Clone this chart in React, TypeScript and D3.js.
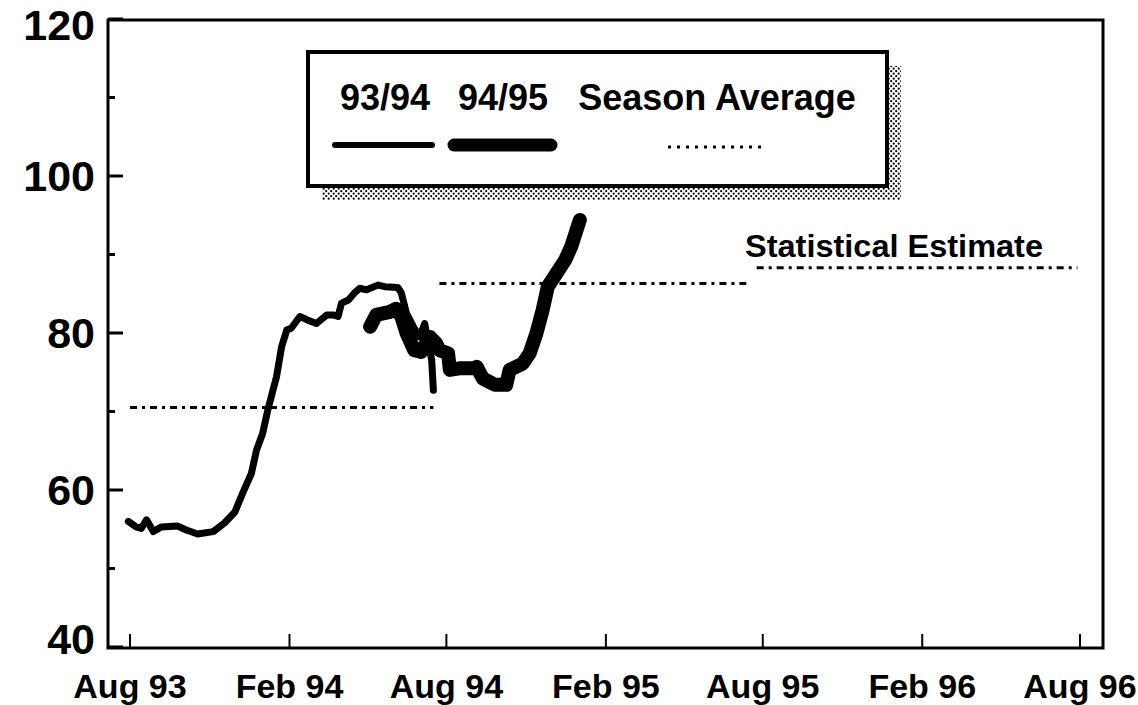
import React, { useEffect, useRef } from "react";
import * as d3 from "d3";

const WIDTH = 1138;
const HEIGHT = 705;

// 93/94 season (thin line)
const season9394Dates = [
  "1993-07-30", "1993-08-08", "1993-08-14", "1993-08-20", "1993-08-28", "1993-09-06",
  "1993-09-25", "1993-10-05", "1993-10-18", "1993-11-05", "1993-11-18", "1993-11-30",
  "1993-12-09", "1993-12-19", "1993-12-25", "1994-01-01", "1994-01-07", "1994-01-17",
  "1994-01-23", "1994-01-29", "1994-02-03", "1994-02-13", "1994-02-21", "1994-03-04",
  "1994-03-16", "1994-03-23", "1994-03-29", "1994-04-02", "1994-04-10", "1994-04-17",
  "1994-04-23", "1994-05-01", "1994-05-14", "1994-05-22", "1994-06-06", "1994-06-10",
  "1994-06-16", "1994-06-24", "1994-07-01", "1994-07-07", "1994-07-11", "1994-07-15",
  "1994-07-17",
];
const season9394Values = [
  56.0, 55.3, 55.1, 56.2, 54.7, 55.3,
  55.4, 54.9, 54.4, 54.7, 55.8, 57.2,
  59.6, 62.1, 65.1, 67.2, 70.2, 74.4,
  78.3, 80.4, 80.6, 82.1, 81.7, 81.2,
  82.3, 82.3, 82.1, 83.8, 84.2, 85.1,
  85.7, 85.5, 86.1, 85.9, 85.8, 85.1,
  82.5, 80.8, 79.5, 81.2, 78.7, 76.6,
  72.7,
];

// 94/95 season (thick line)
const season9495Dates = [
  "1994-05-05", "1994-05-12", "1994-05-28", "1994-06-04", "1994-06-10", "1994-06-16",
  "1994-06-25", "1994-07-03", "1994-07-13", "1994-07-20", "1994-07-24", "1994-08-03",
  "1994-08-05", "1994-08-16", "1994-09-01", "1994-09-05", "1994-09-12", "1994-09-26",
  "1994-10-09", "1994-10-13", "1994-10-28", "1994-11-05", "1994-11-13", "1994-11-20",
  "1994-11-26", "1994-12-06", "1994-12-16", "1994-12-23", "1995-01-02",
];
const season9495Values = [
  80.8, 82.3, 82.7, 83.1, 82.1, 80.0,
  77.8, 77.6, 79.5, 78.7, 77.8, 77.4,
  75.3, 75.5, 75.5, 75.7, 74.2, 73.4,
  73.4, 75.3, 76.1, 77.4, 80.0, 82.9,
  85.9, 87.6, 89.3, 91.0, 94.4,
];

// season averages and the statistical estimate
const avgStart = ["1993-08-01", "1994-07-24", "1995-07-25"];
const avgEnd = ["1994-07-17", "1995-07-13", "1996-07-29"];
const avgValues = [70.5, 86.3, 88.3];

const xTickDates = [
  "1993-08-01", "1994-02-01", "1994-08-01", "1995-02-01",
  "1995-08-01", "1996-02-01", "1996-08-01",
];
const yTicks = [40, 60, 80, 100, 120];
const yMinorTicks = [50, 70, 90, 110];
const legendLabels = ["93/94", "94/95", "Season Average"];

const FONT = "'Liberation Sans', Arial, Helvetica, sans-serif";

export default function App() {
  const ref = useRef<SVGSVGElement>(null);

  useEffect(() => {
    const parse = d3.timeParse("%Y-%m-%d");
    const fmt = d3.timeFormat("%b %y");
    const svg = d3.select(ref.current);
    svg.selectAll("*").remove();

    const x = d3.scaleTime()
      .domain([parse("1993-08-01")!, parse("1996-08-01")!])
      .range([130, 1080]);
    const y = d3.scaleLinear().domain([40, 120]).range([647, 19]);

    const defs = svg.append("defs");
    const pat = defs.append("pattern")
      .attr("id", "halftone")
      .attr("width", 5).attr("height", 5)
      .attr("patternUnits", "userSpaceOnUse");
    pat.append("circle").attr("cx", 1.2).attr("cy", 1.2).attr("r", 1.1).attr("fill", "#000");
    pat.append("circle").attr("cx", 3.7).attr("cy", 3.7).attr("r", 1.1).attr("fill", "#000");

    // frame
    svg.append("rect")
      .attr("x", 108).attr("y", 20)
      .attr("width", 995).attr("height", 628)
      .attr("fill", "none").attr("stroke", "#000").attr("stroke-width", 3);

    // y ticks (inside)
    svg.selectAll(".ymaj").data(yTicks).enter().append("line")
      .attr("x1", 108).attr("x2", 123)
      .attr("y1", d => y(d)).attr("y2", d => y(d))
      .attr("stroke", "#000").attr("stroke-width", 3);
    svg.selectAll(".ymin").data(yMinorTicks).enter().append("line")
      .attr("x1", 108).attr("x2", 115)
      .attr("y1", d => y(d)).attr("y2", d => y(d))
      .attr("stroke", "#000").attr("stroke-width", 3);
    const last = yTicks.length - 1;
    svg.selectAll(".ylab").data(yTicks).enter().append("text")
      .attr("x", 95)
      .attr("y", (d, i) => y(d) + (i === 0 ? -8 : i === last ? 6 : 0))
      .attr("dy", "0.36em")
      .attr("text-anchor", "end")
      .attr("font-family", FONT).attr("font-weight", "bold").attr("font-size", 43)
      .text(d => d);

    // x ticks (pointing up)
    const xd = xTickDates.map(d => parse(d)!);
    svg.selectAll(".xt").data(xd).enter().append("line")
      .attr("x1", d => x(d)).attr("x2", d => x(d))
      .attr("y1", 648).attr("y2", 634)
      .attr("stroke", "#000").attr("stroke-width", 2);
    svg.selectAll(".xlab").data(xd).enter().append("text")
      .attr("x", d => x(d)).attr("y", 698)
      .attr("text-anchor", "middle")
      .attr("font-family", FONT).attr("font-weight", "bold").attr("font-size", 34)
      .text(d => fmt(d));

    // season averages
    avgValues.forEach((v, i) => {
      svg.append("line")
        .attr("x1", x(parse(avgStart[i])!)).attr("x2", x(parse(avgEnd[i])!))
        .attr("y1", y(v)).attr("y2", y(v))
        .attr("stroke", "#000").attr("stroke-width", 3)
        .attr("stroke-dasharray", "7 5 3 5");
    });
    svg.append("text")
      .attr("x", 745).attr("y", 257)
      .attr("font-family", FONT).attr("font-weight", "bold").attr("font-size", 32)
      .attr("textLength", 298).attr("lengthAdjust", "spacingAndGlyphs")
      .text("Statistical Estimate");

    const line = d3.line<[Date, number]>()
      .x(d => x(d[0]))
      .y(d => y(d[1]));

    const d9394 = season9394Dates.map((d, i) => [parse(d)!, season9394Values[i]] as [Date, number]);
    const d9495 = season9495Dates.map((d, i) => [parse(d)!, season9495Values[i]] as [Date, number]);

    svg.append("path").datum(d9394)
      .attr("d", line)
      .attr("fill", "none").attr("stroke", "#000").attr("stroke-width", 7)
      .attr("stroke-linejoin", "round").attr("stroke-linecap", "round");
    svg.append("path").datum(d9495)
      .attr("d", line)
      .attr("fill", "none").attr("stroke", "#000").attr("stroke-width", 14)
      .attr("stroke-linejoin", "round").attr("stroke-linecap", "round");

    // legend
    const lg = svg.append("g");
    lg.append("rect")
      .attr("x", 322).attr("y", 66).attr("width", 579).attr("height", 134)
      .attr("fill", "url(#halftone)");
    lg.append("rect")
      .attr("x", 308).attr("y", 52).attr("width", 579).attr("height", 134)
      .attr("fill", "#fff").attr("stroke", "#000").attr("stroke-width", 4);
    const lx = [385, 503, 717];
    lg.selectAll(".ltext").data(legendLabels).enter().append("text")
      .attr("x", (d, i) => lx[i]).attr("y", 110)
      .attr("text-anchor", "middle")
      .attr("font-family", FONT).attr("font-weight", "bold").attr("font-size", 36)
      .text(d => d);
    lg.append("line")
      .attr("x1", 335).attr("x2", 432).attr("y1", 145).attr("y2", 145)
      .attr("stroke", "#000").attr("stroke-width", 6).attr("stroke-linecap", "round");
    lg.append("line")
      .attr("x1", 454).attr("x2", 551).attr("y1", 145).attr("y2", 145)
      .attr("stroke", "#000").attr("stroke-width", 13).attr("stroke-linecap", "round");
    lg.append("line")
      .attr("x1", 668).attr("x2", 766).attr("y1", 147).attr("y2", 147)
      .attr("stroke", "#000").attr("stroke-width", 3).attr("stroke-dasharray", "3 6");
  }, []);

  return (
    <div style={{ position: "absolute", left: 0, top: 0 }}>
      <svg ref={ref} width={WIDTH} height={HEIGHT} style={{ display: "block", background: "#fff" }} />
    </div>
  );
}
